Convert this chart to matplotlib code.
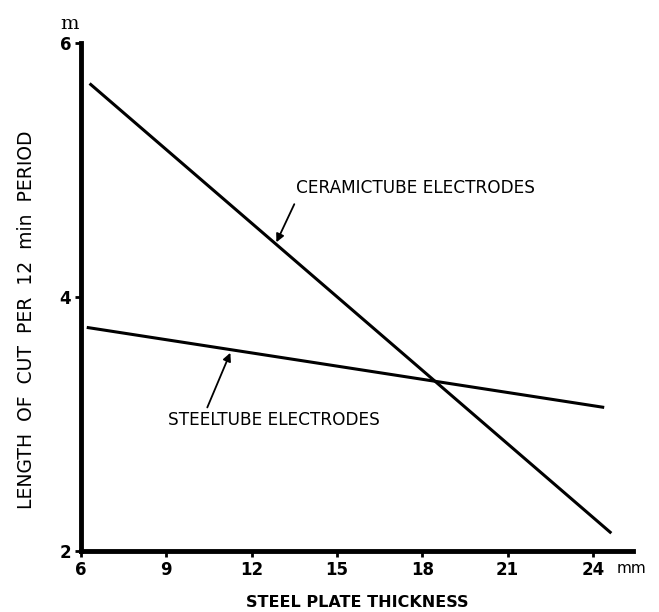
import matplotlib
matplotlib.use("Agg")
import matplotlib.pyplot as plt

# plate thickness (mm) vs length of cut (m) per 12 min
ceramic_x = [6.3, 24.65]
ceramic_y = [5.68, 2.14]
steel_x = [6.2, 24.4]
steel_y = [3.76, 3.13]

xticks = [6, 9, 12, 15, 18, 21, 24]
yticks = [2, 4, 6]

plt.rcParams['font.family'] = ['DejaVu Sans']

fig = plt.figure(figsize=(6.59, 6.12), dpi=100)
ax = fig.add_axes([0.123, 0.0997, 0.837, 0.8303])

ax.plot(ceramic_x, ceramic_y, color='black', lw=2.2, solid_capstyle='butt')
ax.plot(steel_x, steel_y, color='black', lw=2.2, solid_capstyle='butt')

ax.set_xlim(6, 25.4)
ax.set_ylim(2, 6)
ax.set_xticks(xticks)
ax.set_yticks(yticks)
ax.tick_params(direction='out', length=4, width=2, labelsize=12, pad=3)
for lab in ax.get_xticklabels() + ax.get_yticklabels():
    lab.set_fontweight('bold')

for s in ['top', 'right']:
    ax.spines[s].set_visible(False)
for s in ['left', 'bottom']:
    ax.spines[s].set_linewidth(3.5)

fig.text(27 / 659, 1 - 320 / 612, 'LENGTH  OF  CUT  PER  12  min  PERIOD',
         fontsize=13.5, rotation=90, ha='center', va='center')
ax.set_xlabel('STEEL PLATE THICKNESS', fontsize=11.5, fontweight='bold', labelpad=12)

ax.text(24.85, 1.86, 'mm', fontsize=11, ha='left', va='center')
ax.text(5.6, 6.15, 'm', fontsize=14, ha='center', va='center', family='DejaVu Serif')

arrow = dict(arrowstyle='-|>', color='black', lw=1.3, shrinkA=0, shrinkB=0,
             mutation_scale=12)
ax.annotate('', xy=(12.87, 4.43), xytext=(13.5, 4.73), arrowprops=arrow)
ax.text(13.55, 4.86, 'CERAMICTUBE ELECTRODES', fontsize=12.2, ha='left', va='center')
ax.annotate('', xy=(11.25, 3.56), xytext=(10.44, 3.13), arrowprops=arrow)
ax.text(9.06, 3.03, 'STEELTUBE ELECTRODES', fontsize=12.2, ha='left', va='center')

fig.savefig('out.png', dpi=100)
